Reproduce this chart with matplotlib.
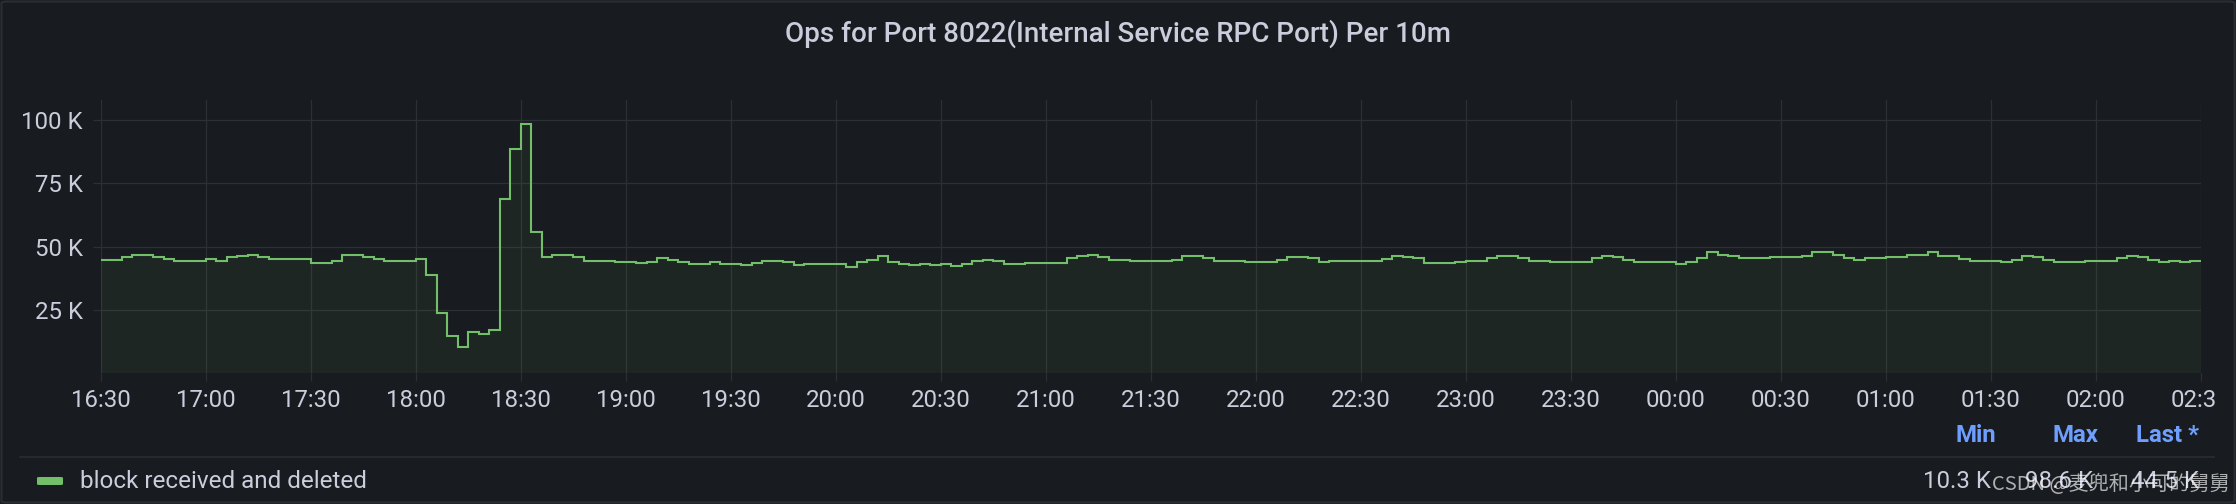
import numpy as np
import pandas as pd
import matplotlib
matplotlib.use("Agg")
from matplotlib import pyplot as plt
import matplotlib.dates as mdates
from matplotlib.patches import FancyBboxPatch
from matplotlib.lines import Line2D
from matplotlib.transforms import Bbox, TransformedBbox

# chart data (values in K ops, one sample every 3 minutes from 16:30)
title = "Ops for Port 8022(Internal Service RPC Port) Per 10m"
series_name = "block received and deleted"
start = "2023-03-01 16:30"
step_minutes = 3
ops_k = [
    44.9, 44.9, 45.7, 46.5, 46.5, 45.7, 45.0, 44.5, 44.5, 44.5,
    45.0, 44.5, 45.7, 46.1, 46.5, 45.7, 45.0, 45.0, 45.0, 45.0,
    43.6, 43.6, 44.4, 46.5, 46.5, 46.0, 45.0, 44.5, 44.5, 44.5,
    45.0, 38.6, 23.6, 14.7, 10.3, 16.1, 15.5, 17.0, 69.0, 88.8,
    98.6, 55.6, 45.7, 46.5, 46.5, 45.7, 44.5, 44.5, 44.5, 44.1,
    44.1, 43.6, 44.1, 45.3, 44.9, 44.1, 43.2, 43.2, 43.8, 43.2,
    43.2, 42.8, 43.6, 44.5, 44.5, 44.1, 42.8, 43.2, 43.2, 43.2,
    43.2, 42.0, 44.0, 44.9, 46.1, 44.0, 43.2, 42.8, 43.2, 42.8,
    43.2, 42.4, 43.2, 44.5, 44.9, 44.5, 43.2, 43.2, 43.6, 43.6,
    43.6, 43.6, 45.3, 46.1, 46.5, 45.7, 44.9, 44.9, 44.5, 44.5,
    44.5, 44.5, 44.9, 46.1, 46.1, 45.3, 44.5, 44.5, 44.5, 44.0,
    44.0, 44.0, 44.9, 45.7, 45.7, 45.3, 44.0, 44.5, 44.5, 44.5,
    44.5, 44.5, 45.0, 46.1, 45.7, 45.3, 43.6, 43.6, 43.6, 44.0,
    44.5, 44.5, 45.3, 46.1, 46.1, 45.3, 44.5, 44.5, 44.0, 44.0,
    44.0, 44.0, 45.3, 46.1, 45.7, 44.9, 44.0, 44.0, 44.0, 44.0,
    43.2, 44.0, 45.3, 47.9, 46.5, 46.1, 45.3, 45.3, 45.3, 45.7,
    45.7, 45.7, 46.1, 47.9, 47.9, 46.5, 45.3, 44.9, 45.3, 45.3,
    45.7, 45.7, 46.5, 46.5, 47.9, 46.1, 46.1, 45.0, 44.5, 44.5,
    44.5, 44.0, 44.9, 46.1, 45.7, 44.9, 44.0, 44.0, 44.0, 44.5,
    44.5, 44.5, 45.3, 46.1, 45.7, 44.9, 44.0, 44.5, 44.0, 44.5,
]
y_ticks_k = [25, 50, 75, 100]
legend_columns = ["Min", "Max", "Last *"]
watermark = "CSDN @麦兜和小可的舅舅"

BG = "#181b1f"
GRID = "#2c2f34"
BORDER = "#2a2d33"
TEXT = "#ccccdc"
BLUE = "#6e9fff"
GREEN = "#73bf69"

plt.rcParams["font.family"] = ["Roboto", "DejaVu Sans"]

W, H = 2236, 504
fig = plt.figure(figsize=(W / 100, H / 100), dpi=100, facecolor=BG)


def fx(px):
    return px / W


def fy(py):
    # py measured from top of image
    return 1 - py / H


ax = fig.add_axes([fx(100.7), fy(373), fx(2100), 273 / H])
ax.set_facecolor(BG)
for s in ax.spines.values():
    s.set_visible(False)

values = np.array(ops_k) * 1000
edges = pd.date_range(start, periods=len(values) + 1, freq=f"{step_minutes}min")
xe = mdates.date2num(edges.to_pydatetime())

ax.stairs(values, xe, fill=True, baseline=0, facecolor=GREEN, alpha=0.07, edgecolor="none")
ax.stairs(values, xe, baseline=None, edgecolor=GREEN, linewidth=1.5, zorder=3)

ax.set_xlim(xe[0], xe[-1])
ax.set_ylim(0, 108000)

ticks = pd.date_range(edges[0], edges[-1], freq="30min")
ax.set_xticks(mdates.date2num(ticks.to_pydatetime()))
ax.set_xticklabels([t.strftime("%H:%M") for t in ticks])
ax.set_yticks([v * 1000 for v in y_ticks_k])
ax.set_yticklabels([f"{v} K" for v in y_ticks_k])

ax.grid(True, color=GRID, linewidth=0.9)
ax.set_axisbelow(True)
ax.tick_params(axis="both", length=5.8, width=0.9, color=GRID, labelcolor=TEXT, labelsize=17.3)
ax.tick_params(axis="y", pad=7)
ax.tick_params(axis="x", pad=6)

# the last time label is cut at the panel edge
clip = TransformedBbox(Bbox([[0, 0], [fx(2215), 1]]), fig.transFigure)
for tick in ax.xaxis.get_major_ticks():
    tick.label1.set_clip_on(True)
    tick.label1.set_clip_box(clip)

fig.text(0.5, fy(34), title, ha="center", va="center", fontsize=20,
         fontweight="medium", color=TEXT)

# legend table
fig.add_artist(Line2D([fx(20), fx(2214)], [fy(457), fy(457)], color=BORDER,
                      linewidth=1.2, transform=fig.transFigure))
fig.add_artist(FancyBboxPatch((fx(37), fy(485)), fx(26), 8 / H,
                              boxstyle="round,pad=0,rounding_size=0.0015",
                              facecolor=GREEN, edgecolor="none",
                              transform=fig.transFigure))
fig.text(fx(80), fy(481), series_name, ha="left", va="center", fontsize=17.5, color=TEXT)

stats = [min(ops_k), max(ops_k), ops_k[-1]]
head_right = [1996, 2098, 2199]
val_right = [1991, 2093, 2199]
for name, v, hr, vr in zip(legend_columns, stats, head_right, val_right):
    fig.text(fx(hr), fy(435), name, ha="right", va="center", fontsize=17.3,
             fontweight="bold", color=BLUE)
    fig.text(fx(vr), fy(481), f"{v:.1f} K", ha="right", va="center", fontsize=17.3,
             color=TEXT)

fig.text(fx(1992), fy(484), watermark, ha="left", va="center", fontsize=14.5,
         family=["Noto Sans CJK SC", "DejaVu Sans"], color="#ffffff", alpha=0.65)

# panel border
fig.add_artist(FancyBboxPatch((fx(1.5), fy(502.5)), fx(2233), 501 / H,
                              boxstyle="round,pad=0,rounding_size=0.003",
                              facecolor="none", edgecolor=BORDER, linewidth=1.5,
                              transform=fig.transFigure))

fig.savefig("out.png", dpi=100, facecolor=BG)
